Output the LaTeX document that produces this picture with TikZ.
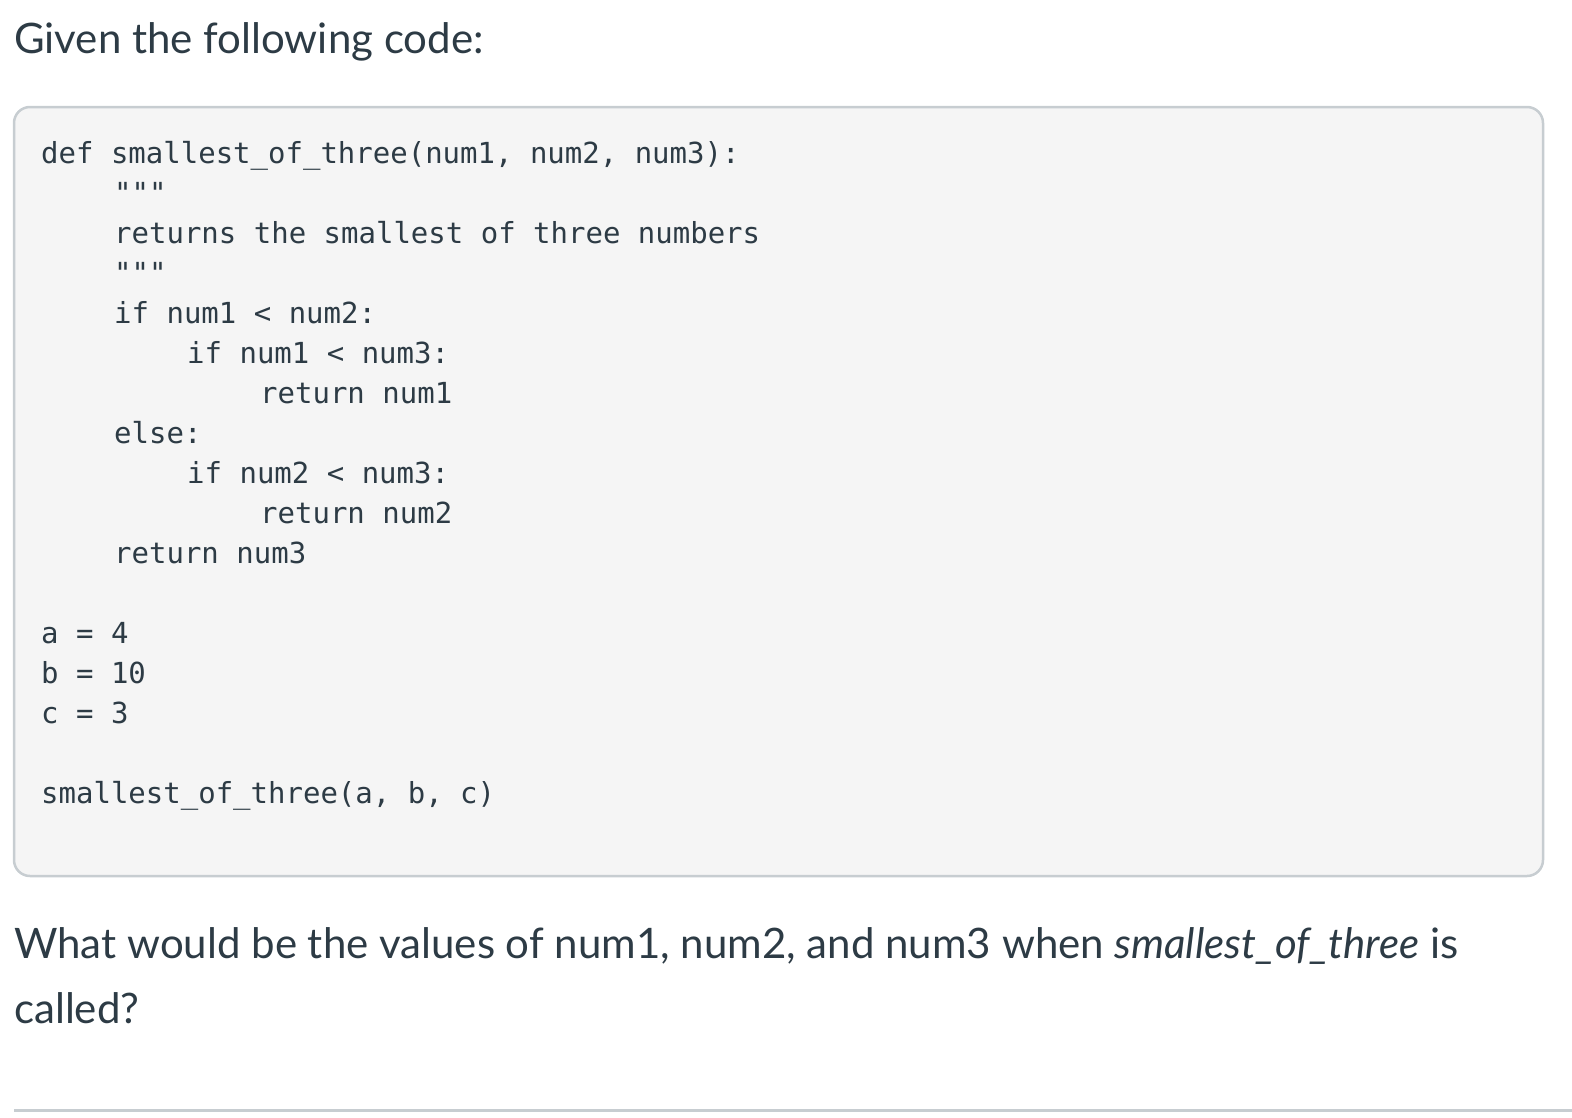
\documentclass[tikz,border=0pt]{standalone}
\usepackage{fontspec}
\setmainfont{Lato}
\setmonofont{DejaVu Sans Mono}
\definecolor{txt}{HTML}{2D3B45}
\definecolor{codebg}{HTML}{F5F5F5}
\definecolor{codeborder}{HTML}{C7CDD1}
\begin{document}
\begin{tikzpicture}[x=1pt,y=-1pt,
  codeline/.style={anchor=base west,inner sep=0,font=\fontsize{29}{29}\ttfamily,text=txt},
  prose/.style={anchor=base west,inner sep=0,font=\fontsize{42}{42}\selectfont,text=txt}]
\useasboundingbox (0,0) rectangle (1572,1117);
\node[prose] (title) at (14,53) {Given the following code:};
\draw[codeborder,line width=2.5pt,fill=codebg,rounded corners=16pt] (14,107) rectangle (1543,876);
\foreach \t/\x/\y [count=\i] in {
 {def smallest\_of\_three(num1, num2, num3):}/41/163,
 {"""}/114/203,
 {returns the smallest of three numbers}/114/243,
 {"""}/114/283,
 {if num1 < num2:}/114/323,
 {if num1 < num3:}/187/363,
 {return num1}/260/403,
 {else:}/114/443,
 {if num2 < num3:}/187/483,
 {return num2}/260/523,
 {return num3}/114/563,
 {a = 4}/41/643,
 {b = 10}/41/683,
 {c = 3}/41/723,
 {smallest\_of\_three(a, b, c)}/41/803}
 \node[codeline] (l\i) at (\x,\y) {\t};
\node[prose] (q1) at (14,958) {What would be the values of num1, num2, and num3 when \textit{smallest\_of\_three} is};
\node[prose] (q2) at (14,1023) {called?};
\draw[codeborder,line width=3pt] (14,1110) -- (1572,1110);
\end{tikzpicture}
\end{document}
